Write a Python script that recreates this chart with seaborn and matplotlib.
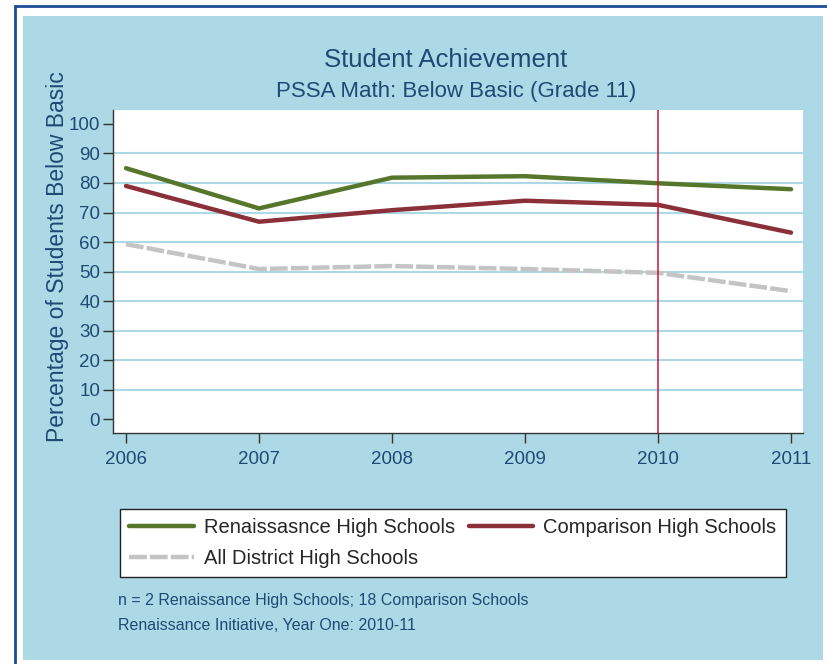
import pandas as pd
import numpy as np
import seaborn as sns
import matplotlib.pyplot as plt
from matplotlib.patches import Rectangle
from matplotlib.lines import Line2D

years = [2006, 2007, 2008, 2009, 2010, 2011]
renaissance = [85.0, 71.4, 81.8, 82.3, 79.9, 77.9]
comparison = [79.0, 66.9, 70.8, 74.0, 72.6, 63.2]
district = [59.3, 50.9, 51.9, 50.9, 49.6, 43.4]

groups = ["Renaissasnce High Schools", "Comparison High Schools", "All District High Schools"]
colors = ["#56772B", "#8B3039", "#C4C4C4"]
y_ticks = list(range(0, 101, 10))
start_year = 2010

title = "Student Achievement"
subtitle = "PSSA Math: Below Basic (Grade 11)"
y_label = "Percentage of Students Below Basic"
notes = ["n = 2 Renaissance High Schools; 18 Comparison Schools",
         "Renaissance Initiative, Year One: 2010-11"]

df = pd.DataFrame({
    "year": years * 3,
    "pct": renaissance + comparison + district,
    "group": [g for g in groups for _ in years],
})

sns.set_style("white")
plt.rcParams["font.family"] = ["Liberation Sans", "DejaVu Sans"]

W, H = 828, 664
text_col = "#1F4A75"
bg = "#ADD8E6"

fig = plt.figure(figsize=(W / 100, H / 100), dpi=100, facecolor="white")

# page frame: dark blue rule and light blue panel
fig.patches.append(Rectangle((15 / W, -0.1), 1.2, 1 - 6 / H + 0.1, transform=fig.transFigure,
                             facecolor="white", edgecolor="#1E4B96", linewidth=2, zorder=-10))
fig.patches.append(Rectangle((23 / W, 1 - 660 / H), 800 / W, 644 / H, transform=fig.transFigure,
                             facecolor=bg, edgecolor="none", zorder=-9))

ax = fig.add_axes([112.7 / W, 1 - 432.7 / H, (803 - 112.7) / W, (432.7 - 110) / H])
ax.set_zorder(1)
ax.set_facecolor("white")

sns.lineplot(data=df, x="year", y="pct", hue="group", style="group",
             palette=dict(zip(groups, colors)),
             dashes={groups[0]: "", groups[1]: "", groups[2]: (4, 0.7)},
             linewidth=3.2, legend=False, ax=ax, zorder=3)

ax.axvline(start_year, color="#C8143C", linewidth=1.1, zorder=4)

ax.set_xlim(2005.9, 2011.09)
ax.set_ylim(-4.5, 104.7)
ax.set_xticks(years)
ax.set_yticks(y_ticks)
for v in y_ticks[1:-1]:
    ax.axhline(v, color=bg, linewidth=1.5, zorder=1)

for s in ["top", "right"]:
    ax.spines[s].set_visible(False)
for s in ["left", "bottom"]:
    ax.spines[s].set_color("#333333")
    ax.spines[s].set_linewidth(1)
ax.tick_params(axis="both", bottom=True, left=True, direction="out", length=7, width=1,
               color="#333333", labelsize=13.5, labelcolor=text_col)
ax.tick_params(axis="x", pad=6.5)
ax.tick_params(axis="y", pad=2)
ax.set_xlabel("")
ax.set_ylabel("")

fig.text(446 / W, 1 - 60 / H, title, ha="center", va="center", fontsize=18.5, color=text_col)
fig.text(456 / W, 1 - 92 / H, subtitle, ha="center", va="center", fontsize=16, color=text_col)
fig.text(58 / W, 1 - 257 / H, y_label, ha="center", va="center", rotation=90,
         fontsize=16.5, color=text_col)

handles = [Line2D([], [], color=colors[0], linewidth=3.2),
           Line2D([], [], color=colors[2], linewidth=3.2, dashes=(4, 0.7)),
           Line2D([], [], color=colors[1], linewidth=3.2)]
labels = [groups[0], groups[2], groups[1]]
leg = fig.legend(handles, labels, ncol=2,
                 bbox_to_anchor=(120 / W, 1 - 509 / H), loc="upper left",
                 fontsize=14.5, frameon=True, fancybox=False, edgecolor="#222222",
                 framealpha=1, handlelength=3.2, borderaxespad=0, borderpad=0.45,
                 labelspacing=0.6, handletextpad=0.5, columnspacing=0.7)
leg.get_frame().set_linewidth(1)
leg.get_frame().set_facecolor("white")

fig.text(118 / W, 1 - 600 / H, notes[0], ha="left", va="center", fontsize=11.5, color=text_col)
fig.text(118 / W, 1 - 626 / H, notes[1], ha="left", va="center", fontsize=11.5, color=text_col)

fig.savefig("out.png", dpi=100, facecolor="white")
